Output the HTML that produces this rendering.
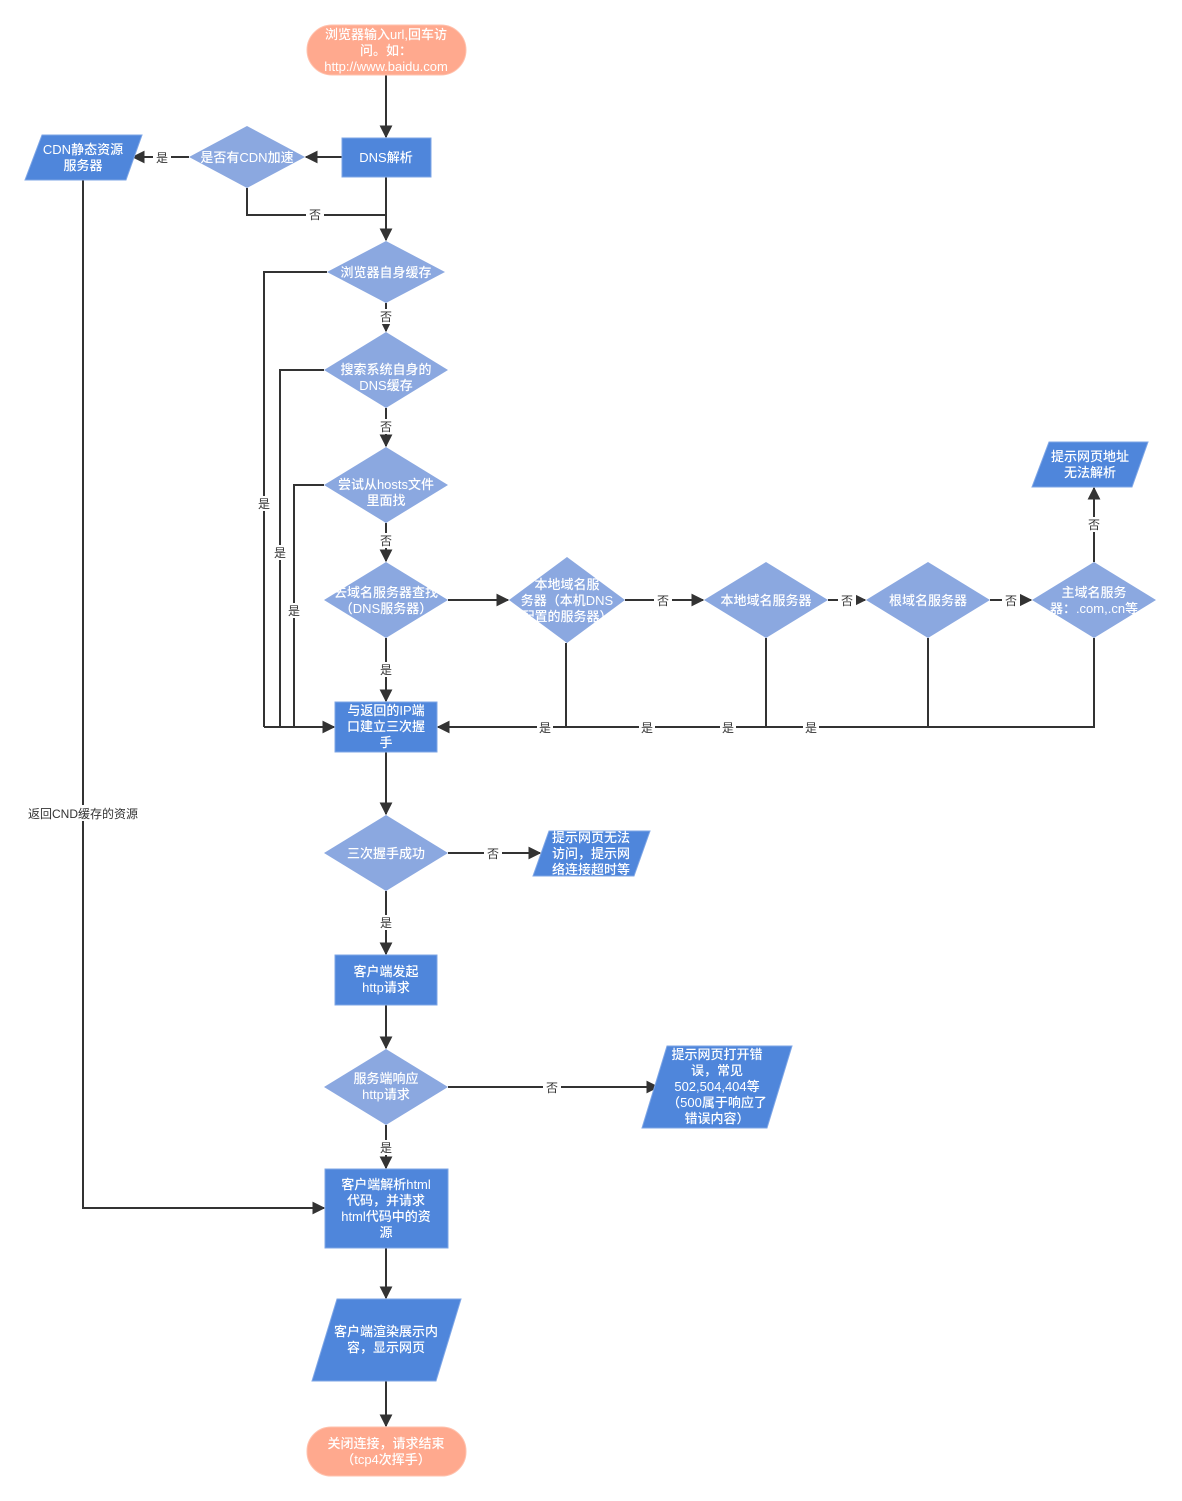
<!DOCTYPE html>
<html><head><meta charset="utf-8"><style>
html,body{margin:0;padding:0;background:#fff;}
svg{display:block;}
text{font-family:"Liberation Sans","Noto Sans CJK SC",sans-serif;font-size:13px;}
.w{fill:#fff;text-anchor:middle;font-weight:500;}
.l{fill:#333;text-anchor:middle;font-size:12px;}
.ln{stroke:#333;stroke-width:2;fill:none;}
.b{fill:#4F86DB;stroke:#7EA6E6;stroke-width:1;}
.d{fill:#8BA8E0;}
.o{fill:#FFA98E;stroke:#FFC2AE;}
</style></head><body>
<svg width="1182" height="1501" viewBox="0 0 1182 1501" xmlns="http://www.w3.org/2000/svg">
<defs>
<marker id="A" viewBox="0 0 10 10" refX="9" refY="5" markerWidth="13" markerHeight="13" markerUnits="userSpaceOnUse" orient="auto"><path d="M0,0 L10,5 L0,10 z" fill="#333"/></marker></defs>

<path class="ln" d="M386,75 V137" marker-end="url(#A)"/>
<path class="ln" d="M342,157 H306" marker-end="url(#A)"/>
<path class="ln" d="M189,157 H133" marker-end="url(#A)"/>
<path class="ln" d="M247,188 V215 H386"/>
<path class="ln" d="M386,177 V240" marker-end="url(#A)"/>
<path class="ln" d="M386,303 V331" marker-end="url(#A)"/>
<path class="ln" d="M386,408 V446" marker-end="url(#A)"/>
<path class="ln" d="M386,523 V561" marker-end="url(#A)"/>
<path class="ln" d="M386,638 V701" marker-end="url(#A)"/>
<path class="ln" d="M327,272 H264 V727"/>
<path class="ln" d="M324,370 H280 V727"/>
<path class="ln" d="M324,485 H294 V727"/>
<path class="ln" d="M264,727 H334" marker-end="url(#A)"/>
<path class="ln" d="M448,600 H508" marker-end="url(#A)"/>
<path class="ln" d="M625,600 H703" marker-end="url(#A)"/>
<path class="ln" d="M828,600 H865" marker-end="url(#A)"/>
<path class="ln" d="M990,600 H1031" marker-end="url(#A)"/>
<path class="ln" d="M1094,562 V488" marker-end="url(#A)"/>
<path class="ln" d="M566,643 V727 M766,638 V727 M928,638 V727 M1094,638 V727 H438" marker-end="url(#A)"/>
<path class="ln" d="M386,752 V814" marker-end="url(#A)"/>
<path class="ln" d="M448,853 H540" marker-end="url(#A)"/>
<path class="ln" d="M386,891 V954" marker-end="url(#A)"/>
<path class="ln" d="M386,1005 V1048" marker-end="url(#A)"/>
<path class="ln" d="M448,1087 H658" marker-end="url(#A)"/>
<path class="ln" d="M386,1125 V1168" marker-end="url(#A)"/>
<path class="ln" d="M83,180 V1208 H324" marker-end="url(#A)"/>
<path class="ln" d="M386,1248 V1298" marker-end="url(#A)"/>
<path class="ln" d="M386,1381 V1426" marker-end="url(#A)"/>

<g>
<rect x="153" y="150" width="18" height="15" fill="#fff"/><text class="l" x="162" y="162">是</text>
<rect x="306" y="207" width="18" height="15" fill="#fff"/><text class="l" x="315" y="219">否</text>
<rect x="378" y="309" width="16" height="15" fill="#fff"/><text class="l" x="386" y="321">否</text>
<rect x="378" y="419" width="16" height="15" fill="#fff"/><text class="l" x="386" y="431">否</text>
<rect x="378" y="533" width="16" height="15" fill="#fff"/><text class="l" x="386" y="545">否</text>
<rect x="378" y="662" width="16" height="15" fill="#fff"/><text class="l" x="386" y="674">是</text>
<rect x="256" y="496" width="16" height="15" fill="#fff"/><text class="l" x="264" y="508">是</text>
<rect x="272" y="545" width="16" height="15" fill="#fff"/><text class="l" x="280" y="557">是</text>
<rect x="286" y="603" width="16" height="15" fill="#fff"/><text class="l" x="294" y="615">是</text>
<rect x="654" y="593" width="18" height="15" fill="#fff"/><text class="l" x="663" y="605">否</text>
<rect x="838" y="593" width="18" height="15" fill="#fff"/><text class="l" x="847" y="605">否</text>
<rect x="1002" y="593" width="18" height="15" fill="#fff"/><text class="l" x="1011" y="605">否</text>
<rect x="1086" y="517" width="16" height="15" fill="#fff"/><text class="l" x="1094" y="529">否</text>
<rect x="537" y="720" width="16" height="15" fill="#fff"/><text class="l" x="545" y="732">是</text>
<rect x="639" y="720" width="16" height="15" fill="#fff"/><text class="l" x="647" y="732">是</text>
<rect x="720" y="720" width="16" height="15" fill="#fff"/><text class="l" x="728" y="732">是</text>
<rect x="803" y="720" width="16" height="15" fill="#fff"/><text class="l" x="811" y="732">是</text>
<rect x="484" y="846" width="18" height="15" fill="#fff"/><text class="l" x="493" y="858">否</text>
<rect x="378" y="915" width="16" height="15" fill="#fff"/><text class="l" x="386" y="927">是</text>
<rect x="543" y="1080" width="18" height="15" fill="#fff"/><text class="l" x="552" y="1092">否</text>
<rect x="378" y="1140" width="16" height="15" fill="#fff"/><text class="l" x="386" y="1152">是</text>
<rect x="22" y="805" width="122" height="16" fill="#fff"/><text class="l" x="83" y="818">返回CND缓存的资源</text>
</g>

<rect class="o" x="307" y="25" width="159" height="50" rx="25"/>
<text class="w" x="386" y="39">浏览器输入url,回车访</text><text class="w" x="386" y="55">问。如：</text><text class="w" x="386" y="71">http://www.baidu.com</text>

<rect class="b" x="342" y="138" width="89" height="39"/><text class="w" x="386" y="162">DNS解析</text>
<polygon class="d" points="247,126 305,157 247,188 189,157"/><text class="w" x="247" y="162">是否有CDN加速</text>
<polygon class="b" points="42,135 142,135 126,180 25,180"/><text class="w" x="83" y="154">CDN静态资源</text><text class="w" x="83" y="170">服务器</text>

<polygon class="d" points="386,241 445,272 386,303 327,272"/><text class="w" x="386" y="277">浏览器自身缓存</text>
<polygon class="d" points="386,332 448,370 386,408 324,370"/><text class="w" x="386" y="374">搜索系统自身的</text><text class="w" x="386" y="390">DNS缓存</text>
<polygon class="d" points="386,447 448,485 386,523 324,485"/><text class="w" x="386" y="489">尝试从hosts文件</text><text class="w" x="386" y="505">里面找</text>
<polygon class="d" points="386,562 448,600 386,638 324,600"/><text class="w" x="386" y="597">去域名服务器查找</text><text class="w" x="386" y="613">（DNS服务器）</text>
<polygon class="d" points="567,557 625,600 567,643 509,600"/><text class="w" x="567" y="589">本地域名服</text><text class="w" x="567" y="605">务器（本机DNS</text><text class="w" x="567" y="621">配置的服务器）</text>
<polygon class="d" points="766,562 828,600 766,638 704,600"/><text class="w" x="766" y="605">本地域名服务器</text>
<polygon class="d" points="928,562 990,600 928,638 866,600"/><text class="w" x="928" y="605">根域名服务器</text>
<polygon class="d" points="1094,562 1156,600 1094,638 1032,600"/><text class="w" x="1094" y="597">主域名服务</text><text class="w" x="1094" y="613">器：.com,.cn等</text>
<polygon class="b" points="1049,442 1148,442 1132,487 1032,487"/><text class="w" x="1090" y="461">提示网页地址</text><text class="w" x="1090" y="477">无法解析</text>

<rect class="b" x="335" y="702" width="102" height="50"/><text class="w" x="386" y="715">与返回的IP端</text><text class="w" x="386" y="731">口建立三次握</text><text class="w" x="386" y="747">手</text>

<polygon class="d" points="386,815 448,853 386,891 324,853"/><text class="w" x="386" y="858">三次握手成功</text>
<polygon class="b" points="549,831 650,831 634,876 533,876"/><text class="w" x="591" y="842">提示网页无法</text><text class="w" x="591" y="858">访问，提示网</text><text class="w" x="591" y="874">络连接超时等</text>

<rect class="b" x="335" y="955" width="102" height="50"/><text class="w" x="386" y="976">客户端发起</text><text class="w" x="386" y="992">http请求</text>

<polygon class="d" points="386,1049 448,1087 386,1125 324,1087"/><text class="w" x="386" y="1083">服务端响应</text><text class="w" x="386" y="1099">http请求</text>
<polygon class="b" points="667,1046 792,1046 767,1128 642,1128"/><text class="w" x="717" y="1059">提示网页打开错</text><text class="w" x="717" y="1075">误，常见</text><text class="w" x="717" y="1091">502,504,404等</text><text class="w" x="717" y="1107">（500属于响应了</text><text class="w" x="717" y="1123">错误内容）</text>

<rect class="b" x="325" y="1169" width="123" height="79"/><text class="w" x="386" y="1189">客户端解析html</text><text class="w" x="386" y="1205">代码，并请求</text><text class="w" x="386" y="1221">html代码中的资</text><text class="w" x="386" y="1237">源</text>

<polygon class="b" points="337,1299 461,1299 436,1381 312,1381"/><text class="w" x="386" y="1336">客户端渲染展示内</text><text class="w" x="386" y="1352">容，显示网页</text>

<rect class="o" x="307" y="1427" width="159" height="49" rx="24"/><text class="w" x="386" y="1448">关闭连接，请求结束</text><text class="w" x="386" y="1464">（tcp4次挥手）</text>
</svg>
</body></html>
